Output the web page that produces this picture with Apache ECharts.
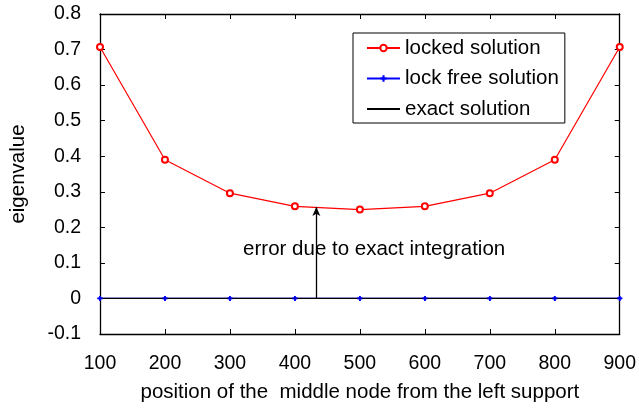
<!DOCTYPE html>
<html><head><meta charset="utf-8">
<script src="https://cdn.jsdelivr.net/npm/echarts@6/dist/echarts.min.js"></script>
<style>html,body{margin:0;padding:0;background:#fff}#c{width:639px;height:408px}</style>
</head><body><div id="c"></div>
<script>
const positions = [100, 200, 300, 400, 500, 600, 700, 800, 900];
const lockedValues = [0.707, 0.390, 0.296, 0.259, 0.250, 0.259, 0.296, 0.390, 0.707];
const lockFreeValues = [0, 0, 0, 0, 0, 0, 0, 0, 0];
const exactValues = [0, 0, 0, 0, 0, 0, 0, 0, 0];
const arrowX = 433;
const arrowFrom = 0;
const arrowTo = 0.257;
const noteText = 'error due to exact integration';
const notePos = [522, 0.138];
const seriesNames = ['locked solution', 'lock free solution', 'exact solution'];
const xName = 'position of the  middle node from the left support';
const yName = 'eigenvalue';

const FONT = '"Liberation Sans", Arial, Helvetica, sans-serif';
const FS = 20.5;
const TFS = 19.5;
const PLUS = 'path://M-1,-3H1V-1H3V1H1V3H-1V1H-3V-1H-1Z';
const chart = echarts.init(document.getElementById('c'));
const pair = (xs, ys) => xs.map((x, i) => [x, ys[i]]);
const axisBase = {
  axisLine: {show: true, onZero: false, lineStyle: {color: '#000', width: 1.3}},
  axisTick: {show: true, inside: true, length: 5, lineStyle: {color: '#000', width: 1}},
  splitLine: {show: false}
};
chart.setOption({
  animation: false,
  textStyle: {fontFamily: FONT},
  grid: {left: 99, top: 14, right: 17, bottom: 73},
  legend: {
    orient: 'vertical', left: 353, top: 33,
    data: [
      {name: seriesNames[0]},
      {name: seriesNames[1]},
      {name: seriesNames[2], itemStyle: {color: 'rgba(0,0,0,0)', borderColor: 'rgba(0,0,0,0)', borderWidth: 0}}
    ],
    backgroundColor: '#fff', borderColor: '#000', borderWidth: 1,
    padding: [3, 6, 2, 13], itemWidth: 33, itemHeight: 8, itemGap: 6.5,
    textStyle: {fontFamily: FONT, fontSize: FS, lineHeight: 24, color: '#000'}
  },
  xAxis: [
    Object.assign({type: 'value', min: 100, max: 900, interval: 100, position: 'bottom',
      name: xName, nameLocation: 'middle', nameGap: 48,
      nameTextStyle: {fontFamily: FONT, fontSize: FS, color: '#000'},
      axisLabel: {fontFamily: FONT, fontSize: TFS, color: '#000', margin: 20}}, axisBase),
    Object.assign({type: 'value', min: 100, max: 900, interval: 100, position: 'top',
      axisLabel: {show: false}}, axisBase)
  ],
  yAxis: [
    Object.assign({type: 'value', min: -0.1, max: 0.8, interval: 0.1, position: 'left',
      name: yName, nameLocation: 'middle', nameGap: 71, nameRotate: 90,
      nameTextStyle: {fontFamily: FONT, fontSize: FS, color: '#000'},
      axisLabel: {fontFamily: FONT, fontSize: TFS, color: '#000', margin: 19,
        formatter: v => { const r = Math.round(v * 10) / 10; return r === 0 ? '0' : r.toFixed(1); }}}, axisBase),
    Object.assign({type: 'value', min: -0.1, max: 0.8, interval: 0.1, position: 'right',
      axisLabel: {show: false}}, axisBase)
  ],
  series: [
    {name: seriesNames[0], type: 'line', data: pair(positions, lockedValues),
      symbol: 'emptyCircle', symbolSize: 6, color: '#ff0000',
      lineStyle: {color: '#ff0000', width: 1.2}, itemStyle: {color: '#ff0000', borderWidth: 1.2}, z: 3},
    {name: seriesNames[1], type: 'line', data: pair(positions, lockFreeValues),
      symbol: PLUS, symbolSize: 5, color: '#0000ff',
      lineStyle: {color: '#0000ff', width: 1.3}, itemStyle: {color: '#0000ff'}, z: 2},
    {name: seriesNames[2], type: 'line', data: pair(positions, exactValues),
      symbol: 'none', color: '#000', lineStyle: {color: '#000', width: 1.3}, z: 4,
      markLine: {silent: true, symbol: ['none', 'arrow'], symbolSize: [6, 9],
        lineStyle: {color: '#000', width: 1.3, type: 'solid'}, label: {show: false},
        data: [[{coord: [arrowX, arrowFrom]}, {coord: [arrowX, arrowTo]}]]},
      markPoint: {silent: true, symbol: 'circle', symbolSize: 0,
        label: {show: true, formatter: noteText, color: '#000', fontFamily: FONT, fontSize: FS, position: 'inside'},
        data: [{coord: notePos}]}},
    {name: 'lockFreeMarkers', type: 'scatter', data: pair(positions, lockFreeValues),
      symbol: PLUS, symbolSize: 5, itemStyle: {color: '#0000ff'}, z: 5}
  ]
});
</script></body></html>
